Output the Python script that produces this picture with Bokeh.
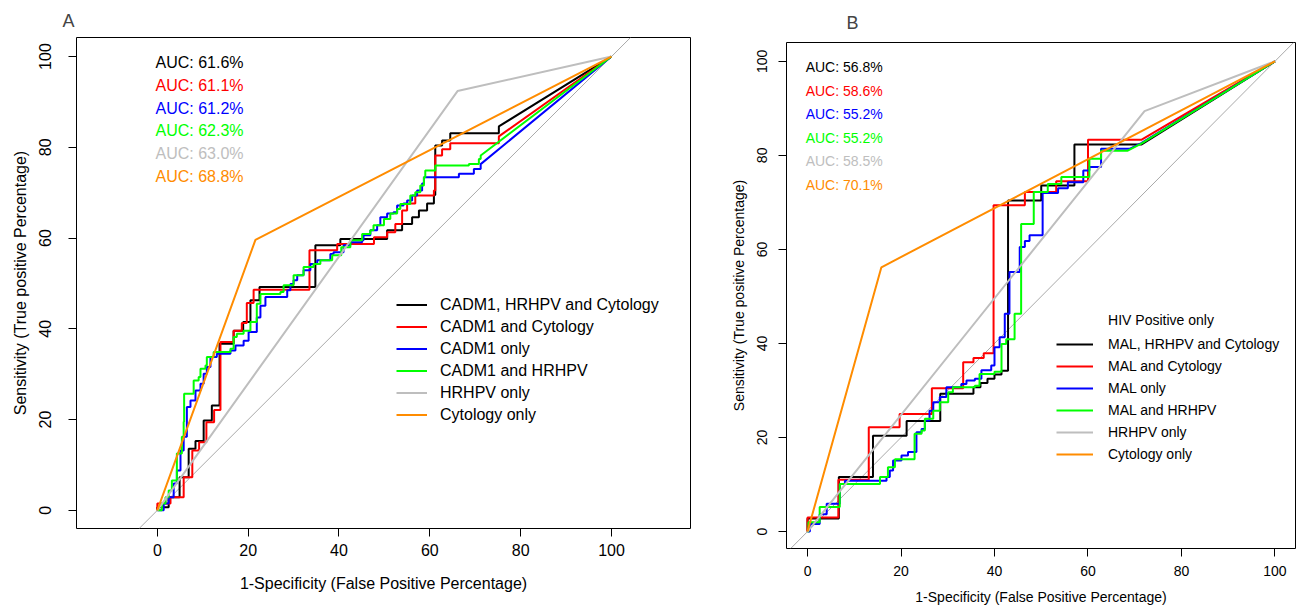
from bokeh.plotting import figure
from bokeh.layouts import row, column
from bokeh.models import FixedTicker, Legend, LegendItem, Slope, Label, Range1d
from bokeh.core.properties import value
from bokeh.embed import file_html
from bokeh.resources import INLINE

FONT = "Liberation Sans"

# ---------------- Panel A data (1-specificity %, sensitivity %) ----------------
# step curves: upper-left corner points, then a straight tail to (100, 100)
a_black_fpr = [0, 2.5, 4.9, 6.9, 8.4, 10.2, 12.0, 13.7, 16.8, 18.9, 20.5, 22.5, 34.8, 40.3, 50.6, 53.9, 56.1, 57.6, 59.4, 60.9, 61.2, 62.7, 64.5, 75.2]
a_black_tpr = [0.7, 2.9, 7.3, 13.6, 15.3, 19.8, 23.1, 36.7, 39.6, 41.5, 46.3, 49.2, 58.4, 59.8, 61.7, 63.1, 64.6, 66.1, 67.6, 69.5, 80.4, 81.5, 83.1, 84.6]
a_black_tail = ([100], [100])

a_red_fpr = [0, 2.9, 5.8, 7.7, 9.2, 10.8, 12.5, 13.9, 16.8, 18.6, 19.7, 21.2, 33.5, 39.6, 47.7, 50.6, 52.4, 53.9, 55.0, 56.8, 60.9, 61.2, 62.7, 64.5, 75.2]
a_red_tpr = [1.5, 2.9, 7.3, 13.2, 15.0, 19.4, 22.1, 37.1, 39.6, 41.3, 45.7, 48.6, 57.3, 58.7, 60.2, 61.3, 63.1, 66.1, 67.6, 69.4, 70.5, 78.2, 79.6, 80.9, 82.4]
a_red_tail = ([100], [100])

a_blue_fpr = [1.4, 2.5, 3.6, 4.3, 5.1, 5.8, 6.5, 7.3, 8.4, 9.5, 10.2, 10.9, 11.7, 13.1, 16.1, 17.2, 19.0, 20.1, 21.9, 22.7, 23.8, 28.6, 29.3, 30.0, 30.8, 32.2, 33.7, 35.2, 38.1, 38.8, 41.0, 42.5, 45.1, 45.4, 46.9, 48.4, 49.1, 50.6, 52.0, 52.8, 54.2, 55.0, 56.1, 57.2, 58.3, 58.7, 66.4, 69.7, 71.2]
a_blue_tpr = [1.5, 2.9, 5.9, 8.8, 13.2, 16.2, 22.8, 24.2, 26.4, 27.9, 30.1, 31.6, 33.8, 34.5, 35.2, 36.3, 37.4, 39.3, 42.5, 45.1, 47.0, 48.5, 49.9, 50.7, 51.8, 52.9, 54.3, 55.1, 56.5, 56.9, 58.4, 59.1, 59.5, 60.6, 61.7, 62.8, 64.6, 65.4, 65.7, 67.2, 67.6, 68.3, 69.4, 70.5, 72.0, 73.4, 74.2, 75.2, 76.3]
a_blue_tail = ([100], [100])

a_green_fpr = [1.0, 1.8, 2.5, 3.2, 4.3, 5.4, 5.8, 5.9, 8.0, 9.1, 9.5, 10.6, 10.9, 12.4, 16.1, 16.8, 17.5, 19.0, 20.5, 21.9, 22.7, 27.1, 27.8, 30.0, 32.2, 34.4, 35.9, 38.5, 40.5, 42.5, 45.1, 46.9, 47.6, 49.9, 51.3, 52.8, 53.5, 55.7, 56.8, 57.9, 58.7, 59.0, 61.2, 68.6, 70.8, 71.2]
a_green_tpr = [1.5, 2.9, 4.4, 6.6, 12.5, 16.2, 19.5, 25.7, 28.6, 29.4, 31.2, 31.9, 33.8, 34.9, 35.6, 38.2, 38.9, 39.6, 41.5, 45.5, 47.7, 48.1, 49.6, 51.8, 53.6, 54.3, 55.1, 56.2, 58.0, 59.5, 60.9, 61.7, 62.8, 64.2, 65.4, 66.4, 67.5, 69.4, 70.1, 71.6, 73.4, 74.9, 76.0, 76.3, 77.4, 78.2]
a_green_tail = ([100], [100])

a_hrhpv_fpr = [0, 66.1, 100]
a_hrhpv_tpr = [0, 92.4, 100]
a_cyto_fpr = [0, 21.6, 100]
a_cyto_tpr = [0, 59.6, 100]

a_labels = ["CADM1, HRHPV and Cytology", "CADM1 and Cytology", "CADM1 only",
            "CADM1 and HRHPV", "HRHPV only", "Cytology only"]
a_auc = [61.6, 61.1, 61.2, 62.3, 63.0, 68.8]

# ---------------- Panel B data ----------------
b_black_fpr = [0, 6.7, 14.0, 21.2, 28.4, 35.5, 37.0, 38.5, 40.0, 41.5, 42.9, 50.0, 57.1]
b_black_tpr = [2.8, 11.6, 20.4, 23.5, 29.3, 30.7, 31.6, 32.5, 33.4, 34.2, 70.4, 73.6, 82.3]
b_black_tail = ([71.4, 100], [82.3, 100])

b_red_fpr = [0, 6.6, 13.1, 19.7, 26.6, 33.3, 35.5, 37.7, 39.8, 46.5, 53.2, 60.0]
b_red_tpr = [3.0, 11.0, 22.2, 25.0, 30.5, 36.0, 36.9, 37.9, 69.4, 72.2, 74.5, 83.3]
b_red_tail = ([71.4, 100], [83.3, 100])

b_blue_fpr = [0.5, 2.6, 4.1, 6.9, 8.0, 16.9, 17.6, 18.3, 20.1, 21.5, 23.3, 24.4, 25.1, 26.1, 26.9, 28.3, 29.7, 32.9, 34.0, 35.8, 37.2, 39.3, 40.0, 41.1, 42.2, 43.2, 45.4, 46.5, 47.5, 50.3, 53.6, 55.7, 59.0, 60.3, 62.8]
b_blue_tpr = [1.6, 3.7, 5.9, 10.1, 10.8, 11.6, 13.0, 15.1, 16.2, 16.9, 21.1, 21.8, 23.6, 25.7, 27.5, 28.6, 30.7, 31.4, 32.1, 32.5, 34.3, 35.3, 39.2, 41.3, 46.3, 55.2, 60.5, 61.8, 63.0, 72.0, 73.0, 74.3, 76.8, 77.5, 81.4]
b_blue_tail = ([68.9, 71.4, 100], [81.4, 82.6, 100])

b_green_fpr = [0.2, 2.6, 6.9, 15.5, 17.2, 18.7, 22.9, 24.4, 25.1, 26.9, 28.3, 30.1, 31.1, 35.8, 36.8, 40.0, 41.5, 42.5, 44.3, 45.7, 48.4, 51.4, 54.3, 60.3, 62.8]
b_green_tpr = [2.0, 5.2, 10.1, 11.6, 13.7, 15.4, 20.8, 21.5, 24.0, 25.7, 27.5, 29.6, 30.7, 31.0, 33.5, 34.0, 39.9, 40.9, 46.3, 65.4, 72.2, 73.9, 75.4, 79.3, 81.0]
b_green_tail = ([68.5, 71.4, 100], [81.0, 82.5, 100])

b_hrhpv_fpr = [0, 72.1, 100]
b_hrhpv_tpr = [0, 89.4, 100]
b_cyto_fpr = [0, 15.8, 100]
b_cyto_tpr = [0, 56.2, 100]

b_labels = ["MAL, HRHPV and Cytology", "MAL and Cytology", "MAL only",
            "MAL and HRHPV", "HRHPV only", "Cytology only"]
b_auc = [56.8, 58.6, 55.2, 55.2, 58.5, 70.1]
b_legend_title = "HIV Positive only"

ticks = [0, 20, 40, 60, 80, 100]
colors = ["#000000", "#FF0000", "#0000FF", "#00FF00", "#BEBEBE", "#FF8C00"]


def staircase(cx, cy, tail):
    xs, ys = [0.0], [0.0]
    for x, y in zip(cx, cy):
        xs += [x, x]
        ys += [ys[-1], y]
    xs += list(tail[0])
    ys += list(tail[1])
    return xs, ys


def make_fig(xr, yr, w, h, bl, br, bt, bb, title, toff, tstand, fs, tfs,
             xl_stand, xa_stand, yl_stand, ya_stand):
    p = figure(x_range=Range1d(*xr), y_range=Range1d(*yr),
               width=w, height=h,
               min_border_left=bl, min_border_right=br,
               min_border_top=bt, min_border_bottom=bb,
               toolbar_location=None, output_backend="svg", title=title)
    p.title.text_font = FONT
    p.title.text_font_size = "18px"
    p.title.text_font_style = "normal"
    p.title.align = "left"
    p.title.offset = toff
    p.title.standoff = tstand
    p.xgrid.visible = False
    p.ygrid.visible = False
    p.outline_line_color = "#000000"
    p.outline_line_width = 1
    p.outline_line_alpha = 1
    p.background_fill_color = "white"
    p.border_fill_color = "white"
    for ax in (p.xaxis[0], p.yaxis[0]):
        ax.ticker = FixedTicker(ticks=ticks)
        ax.minor_tick_line_color = None
        ax.major_tick_out = 8
        ax.major_tick_in = 0
        ax.major_tick_line_color = "#000000"
        ax.axis_line_color = None
        ax.major_label_text_font = FONT
        ax.major_label_text_font_size = tfs
        ax.major_label_text_color = "#000000"
        ax.axis_label_text_font = FONT
        ax.axis_label_text_font_size = fs
        ax.axis_label_text_font_style = "normal"
        ax.axis_label_text_color = "#000000"
    p.xaxis.axis_label = "1-Specificity (False Positive Percentage)"
    p.yaxis.axis_label = "Sensitivity (True positive Percentage)"
    p.xaxis.major_label_standoff = xl_stand
    p.xaxis.axis_label_standoff = xa_stand
    p.yaxis.major_label_standoff = yl_stand
    p.yaxis.axis_label_standoff = ya_stand
    p.yaxis.major_label_orientation = "vertical"
    p.add_layout(Slope(gradient=1, y_intercept=0, line_color="#A9A9A9",
                       line_width=1, level="underlay"))
    return p


def draw(p, curves, hr, cy, aucs, labels, fs, auc_y0, leg_loc, gw, lstand, lh, sp):
    rends = []
    for (cx, cyy, tail), col in zip(curves, colors[:4]):
        xs, ys = staircase(cx, cyy, tail)
        rends.append(p.line(xs, ys, line_color=col, line_width=2))
    rends.append(p.line(hr[0], hr[1], line_color=colors[4], line_width=2))
    rends.append(p.line(cy[0], cy[1], line_color=colors[5], line_width=2))
    p.text(x=[-0.4] * len(aucs), y=[auc_y0 - 5 * i for i in range(len(aucs))],
           text=["AUC: %.1f%%" % a for a in aucs], text_color=colors,
           text_font=value(FONT), text_font_size=fs,
           text_baseline="middle", text_align="left")
    items = [LegendItem(label=lab, renderers=[r]) for lab, r in zip(labels, rends)]
    leg = Legend(items=items, location=leg_loc, padding=0, margin=0,
                 border_line_color=None, background_fill_alpha=0,
                 glyph_width=gw, glyph_height=lh, label_height=lh,
                 label_standoff=lstand, spacing=sp,
                 label_text_font=FONT, label_text_font_size=fs,
                 label_text_color="#000000")
    p.add_layout(leg)


# panel A: canvas 727 x 610, frame 614 x 491 at (76, 37)
pA = make_fig((-17.8, 117.4), (-4.0, 104.2), 727, 610, 76, 37, 37, 82,
              "A", -14, 13, "16px", "16px", 7, 16, 17, 8)
draw(pA,
     [(a_black_fpr, a_black_tpr, a_black_tail), (a_red_fpr, a_red_tpr, a_red_tail),
      (a_blue_fpr, a_blue_tpr, a_blue_tail), (a_green_fpr, a_green_tpr, a_green_tail)],
     (a_hrhpv_fpr, a_hrhpv_tpr), (a_cyto_fpr, a_cyto_tpr), a_auc, a_labels,
     "16px", 98.6, (320, 104), 31, 13, 19, 3)

# panel B: canvas 571 x 610, frame 510 x 506 at (58, 42)
pB = make_fig((-4.5, 104.4), (-3.6, 104.0), 571, 610, 58, 3, 42, 62,
              "B", 60, 20, "14px", "14px", 9, 10, 11, 8)
draw(pB,
     [(b_black_fpr, b_black_tpr, b_black_tail), (b_red_fpr, b_red_tpr, b_red_tail),
      (b_blue_fpr, b_blue_tpr, b_blue_tail), (b_green_fpr, b_green_tpr, b_green_tail)],
     (b_hrhpv_fpr, b_hrhpv_tpr), (b_cyto_fpr, b_cyto_tpr), b_auc, b_labels,
     "14px", 98.7, (270, 84), 37, 15, 20, 2)
pB.add_layout(Label(x=64.3, y=44.9, text=b_legend_title, text_font=FONT,
                    text_font_size="14px", text_baseline="middle",
                    text_color="#000000"))

layout = row(column(pA), column(pB))
open("out.html", "w").write(file_html(layout, INLINE))
